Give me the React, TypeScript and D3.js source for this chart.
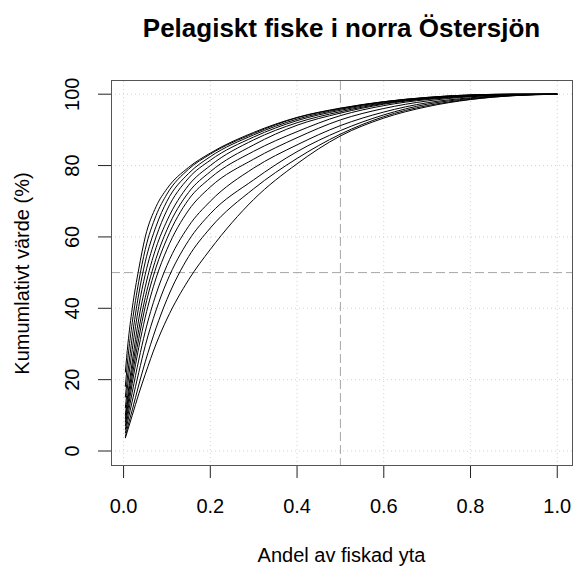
import React from "react";
import * as d3 from "d3";

const W = 575;
const H = 569;

// share of fished area (x) where each curve was read
const shares = [0.004, 0.01, 0.02, 0.035, 0.05, 0.075, 0.1, 0.15, 0.2, 0.3, 0.4, 0.5, 0.6, 0.7, 0.8, 0.9, 1.0];

// cumulative value (%) per curve, steepest first
const curveA = [22, 30, 40, 51, 60, 68.5, 73.5, 79.5, 83.5, 89.3, 93.5, 96.1, 97.9, 99.1, 99.8, 100, 100];
const curveB = [18, 26, 36, 47.5, 56.5, 66, 72, 79, 83.2, 89, 93.4, 96, 97.9, 99.1, 99.8, 100, 100];
const curveC = [15, 22, 32, 44, 53, 63, 70, 77.8, 82.5, 88.6, 93, 95.8, 97.8, 99, 99.7, 100, 100];
const curveD = [12, 19, 28.5, 40.5, 49.5, 60, 67.5, 76.5, 81.5, 88, 92.6, 95.5, 97.6, 98.9, 99.7, 100, 100];
const curveE = [10, 16, 25, 37, 46, 57, 64.5, 74.5, 80, 87.2, 92, 95.1, 97.4, 98.8, 99.6, 99.9, 100];
const curveF = [9, 14.5, 23, 34, 43, 54, 62, 72.5, 78.3, 85.8, 91.3, 94.7, 97.2, 98.7, 99.5, 99.9, 100];
const curveG = [8, 13, 21, 31.5, 40.5, 51.5, 59.5, 70.5, 76.5, 84, 89.5, 94, 96.8, 98.5, 99.4, 99.9, 100];
const curveH = [7, 11.5, 19, 29, 37.5, 48.5, 56.5, 67.5, 74, 81.8, 87.8, 92.8, 96, 98.1, 99.3, 99.8, 100];
const curveI = [6, 10, 16.5, 25.5, 33.5, 44, 52, 63, 70, 79.3, 85.8, 91.2, 95, 97.6, 99, 99.8, 100];
const curveJ = [5, 8.5, 14, 22, 29.5, 39.5, 47.5, 59, 66.5, 76, 83.9, 89.8, 94.2, 97.2, 98.8, 99.7, 100];
const curveK = [4, 7, 11.5, 18.5, 25, 34.5, 42.5, 54.5, 62.5, 73.5, 82, 88.8, 93.7, 96.8, 98.6, 99.6, 100];
const curveL = [3.6, 6, 10, 16, 21.5, 30, 37, 48, 56.5, 70.5, 80.5, 88.3, 93.3, 96.5, 98.5, 99.6, 100];

const series = [curveA, curveB, curveC, curveD, curveE, curveF, curveG, curveH, curveI, curveJ, curveK, curveL];

const xTicks = [0, 0.2, 0.4, 0.6, 0.8, 1.0];
const yTicks = [0, 20, 40, 60, 80, 100];

const left = 111, right = 572, top = 81, bottom = 466;

const App = () => {
  const x = d3.scaleLinear().domain([-0.029, 1.034]).range([left, right]);
  const y = d3.scaleLinear().domain([-4.2, 103.7]).range([bottom, top]);

  const line = d3
    .line<number>()
    .x((d, i) => x(shares[i]))
    .y((d) => y(d))
    .curve(d3.curveMonotoneX);

  const font = "'Liberation Sans', Arial, sans-serif";

  return (
    <div style={{ position: "absolute", left: 0, top: 0 }}>
      <svg width={W} height={H} style={{ display: "block", background: "#fff" }}>
        <text x={(left + right) / 2} y={37} textAnchor="middle" fontFamily={font} fontWeight="bold" fontSize={26}>
          Pelagiskt fiske i norra Östersjön
        </text>

        {/* grid */}
        {xTicks.map((t) => (
          <line key={"gx" + t} x1={x(t)} x2={x(t)} y1={top} y2={bottom} stroke="#d3d3d3" strokeDasharray="1,3" />
        ))}
        {yTicks.map((t) => (
          <line key={"gy" + t} x1={left} x2={right} y1={y(t)} y2={y(t)} stroke="#d3d3d3" strokeDasharray="1,3" />
        ))}

        {/* reference lines */}
        <line x1={x(0.5)} x2={x(0.5)} y1={top} y2={bottom} stroke="#a6a6a6" strokeDasharray="9,4" />
        <line x1={left} x2={right} y1={y(50)} y2={y(50)} stroke="#a6a6a6" strokeDasharray="9,4" />

        {series.map((s, i) => (
          <path key={i} d={line(s) || ""} fill="none" stroke="#000" strokeWidth={1} />
        ))}

        <rect x={left + 0.5} y={top - 0.5} width={right - left} height={bottom - top} fill="none" stroke="#555" />

        {/* x axis */}
        {xTicks.map((t) => (
          <g key={"tx" + t}>
            <line x1={x(t)} x2={x(t)} y1={bottom} y2={bottom + 12} stroke="#222" />
            <text x={x(t)} y={513} textAnchor="middle" fontFamily={font} fontSize={20}>
              {t.toFixed(1)}
            </text>
          </g>
        ))}
        <text x={(left + right) / 2} y={562} textAnchor="middle" fontFamily={font} fontSize={20}>
          Andel av fiskad yta
        </text>

        {/* y axis */}
        {yTicks.map((t) => (
          <g key={"ty" + t}>
            <line x1={left - 13} x2={left} y1={y(t)} y2={y(t)} stroke="#222" />
            <text
              transform={`translate(79,${y(t)}) rotate(-90)`}
              textAnchor="middle"
              fontFamily={font}
              fontSize={20}
            >
              {t}
            </text>
          </g>
        ))}
        <text
          transform={`translate(29,${(top + bottom) / 2}) rotate(-90)`}
          textAnchor="middle"
          fontFamily={font}
          fontSize={20}
        >
          Kumumlativt värde (%)
        </text>
      </svg>
    </div>
  );
};

export default App;
